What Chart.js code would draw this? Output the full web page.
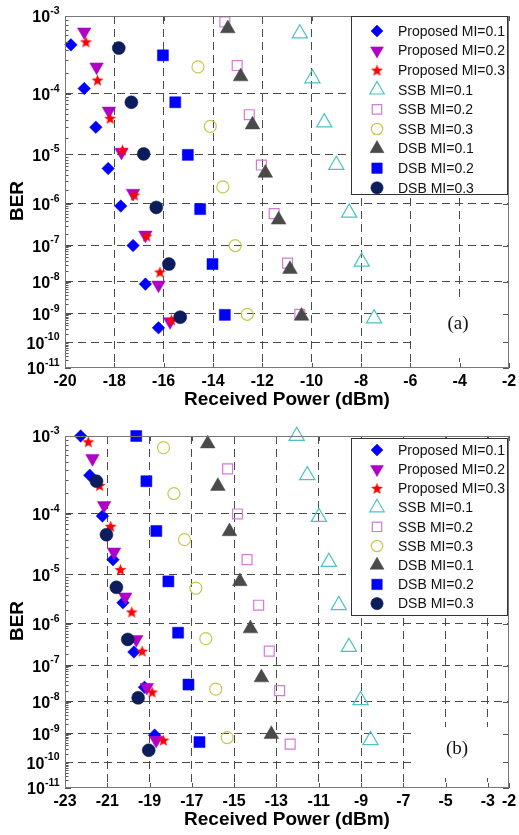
<!DOCTYPE html>
<html><head><meta charset="utf-8">
<script src="https://cdn.jsdelivr.net/npm/chart.js@4.4.0/dist/chart.umd.min.js"></script>
<style>
html,body{margin:0;padding:0;background:#fff;width:519px;height:835px;overflow:hidden;}
canvas{position:absolute;left:0;}
</style></head><body>
<canvas id="c1" width="519" height="418" style="top:0px"></canvas>
<canvas id="c2" width="519" height="417" style="top:418px"></canvas>
<script>
// ---------------- DATA ----------------
const seriesNames = ['Proposed MI=0.1','Proposed MI=0.2','Proposed MI=0.3','SSB MI=0.1','SSB MI=0.2','SSB MI=0.3','DSB MI=0.1','DSB MI=0.2','DSB MI=0.3'];
const yDecades = [3,4,5,6,7,8,9,10,11];           // BER = 10^-n tick labels
const xTicksA = [-20,-18,-16,-14,-12,-10,-8,-6,-4,-2];
const xTicksB = [-23,-21,-19,-17,-15,-13,-11,-9,-7,-5,-3,-2];

// Panel (a)
const propA1_P = [-19.76,-19.22,-18.75,-18.25,-17.74,-17.24,-16.74,-16.21];
const propA1_B = [4.6e-4,1.2e-4,3.0e-5,5.4e-6,8.9e-7,1.0e-7,8.5e-9,3.3e-10];
const propA2_P = [-19.22,-18.72,-18.22,-17.71,-17.24,-16.74,-16.21,-15.74];
const propA2_B = [6.6e-4,2.4e-4,5.5e-5,1.1e-5,1.7e-6,1.85e-7,8e-9,5.4e-10];
const propA3_P = [-19.15,-18.68,-18.17,-17.67,-17.19,-16.69,-16.15,-15.68];
const propA3_B = [5e-4,1.58e-4,4.2e-5,1.2e-5,1.55e-6,1.74e-7,1.9e-8,6.2e-10];
const ssbA1_P = [-10.48,-9.97,-9.49,-9.0,-8.48,-7.97,-7.47];
const ssbA1_B = [6.3e-4,1.67e-4,3.6e-5,6.3e-6,6.3e-7,3.7e-8,6.9e-10];
const ssbA2_P = [-13.52,-13.02,-12.53,-12.04,-11.52,-10.98,-10.48];
const ssbA2_B = [8.6e-4,2.5e-4,4.8e-5,6.3e-6,6e-7,3.4e-8,9.5e-10];
const ssbA3_P = [-14.61,-14.11,-13.60,-13.10,-12.61];
const ssbA3_B = [2.4e-4,3.1e-5,2.3e-6,1e-7,9.5e-10];
const dsbA1_P = [-13.40,-12.88,-12.40,-11.88,-11.34,-10.88,-10.41];
const dsbA1_B = [7.2e-4,1.77e-4,3.3e-5,4.4e-6,4.3e-7,2.3e-8,8.3e-10];
const dsbA2_P = [-16.03,-15.53,-15.02,-14.52,-14.02,-13.52];
const dsbA2_B = [3.4e-4,7.5e-5,9.8e-6,7.6e-7,3.2e-8,9.1e-10];
const dsbA3_P = [-17.82,-17.31,-16.81,-16.30,-15.79,-15.33];
const dsbA3_B = [4.2e-4,7.5e-5,1.02e-5,8.3e-7,3.2e-8,7.6e-10];

// Panel (b)
const propB1_P = [-22.26,-21.83,-21.23,-20.73,-20.26,-19.74,-19.24,-18.76];
const propB1_B = [1e-3,3.4e-4,9.3e-5,1.84e-5,2.8e-6,2.2e-7,2.6e-8,8.9e-10];
const propB2_P = [-21.70,-21.15,-20.68,-20.15,-19.63,-19.13,-18.69];
const propB2_B = [5.5e-4,1.33e-4,2.5e-5,3.7e-6,4.4e-7,2.6e-8,6e-10];
const propB3_P = [-21.90,-21.36,-20.84,-20.38,-19.84,-19.35,-18.88,-18.35];
const propB3_B = [8.6e-4,2.5e-4,6.5e-5,1.22e-5,1.8e-6,2.3e-7,1.9e-8,6e-10];
const ssbB1_P = [-12.04,-11.54,-10.99,-10.52,-10.05,-9.57,-9.02,-8.55];
const ssbB1_B = [1e-3,3.4e-4,9e-5,1.67e-5,2.5e-6,2.9e-7,1.1e-8,6e-10];
const ssbB2_P = [-15.31,-14.84,-14.39,-13.84,-13.34,-12.85,-12.35];
const ssbB2_B = [4.1e-4,1e-4,1.84e-5,2.5e-6,2.3e-7,2.1e-8,4.4e-10];
const ssbB3_P = [-18.34,-17.85,-17.35,-16.81,-16.34,-15.87,-15.33];
const ssbB3_B = [7.4e-4,1.95e-4,4e-5,5.5e-6,4.6e-7,2.3e-8,7.4e-10];
const dsbB1_P = [-16.25,-15.77,-15.22,-14.73,-14.23,-13.71,-13.24];
const dsbB1_B = [8.2e-4,2.45e-4,5.4e-5,7.4e-6,7.8e-7,4.8e-8,9.5e-10];
const dsbB2_P = [-19.63,-19.15,-18.68,-18.11,-17.65,-17.16,-16.64];
const dsbB2_B = [1e-3,2.85e-4,5.5e-5,7.4e-6,6.3e-7,3.1e-8,5.2e-10];
const dsbB3_P = [-21.51,-21.04,-20.57,-20.03,-19.54,-19.04];
const dsbB3_B = [2.85e-4,4.8e-5,5.7e-6,4.4e-7,1.3e-8,2.7e-10];

// ---------------- STYLE ----------------
function makeStar(R, color){
  const c = document.createElement('canvas');
  const s = Math.ceil(2*R+2); c.width = s; c.height = s;
  const g = c.getContext('2d'); const cx = s/2, cy = s/2 + 0.5; const r = R*0.42;
  g.beginPath();
  for (let i=0;i<10;i++){
    const a = -Math.PI/2 + i*Math.PI/5; const rr = (i%2===0)?R:r;
    const px = cx + rr*Math.cos(a), py = cy + rr*Math.sin(a);
    if(i===0) g.moveTo(px,py); else g.lineTo(px,py);
  }
  g.closePath(); g.fillStyle = color; g.fill();
  return c;
}
const starImg = makeStar(6.3, '#ff0000');
const NONE = 'rgba(0,0,0,0)';
const styles = [
  {ps:'rectRot', rot:0, r:6.3, fill:'#0000ff', stroke:'#0000ff', bw:0.5},
  {ps:'triangle', rot:180, r:7.8, fill:'#b000c8', stroke:'#b000c8', bw:0.5},
  {ps:starImg, rot:0, r:6.3, fill:'#ff0000', stroke:'#ff0000', bw:0},
  {ps:'triangle', rot:0, r:8.8, fill:NONE, stroke:'#4cc3c3', bw:1.2},
  {ps:'rect', rot:0, r:7.0, fill:NONE, stroke:'#d37ad6', bw:1.2},
  {ps:'circle', rot:0, r:6.0, fill:NONE, stroke:'#c8c84e', bw:1.2},
  {ps:'triangle', rot:0, r:8.5, fill:'#4a4a4a', stroke:'#4a4a4a', bw:0.5},
  {ps:'rect', rot:0, r:7.8, fill:'#0000ff', stroke:'#0000ff', bw:0.5},
  {ps:'circle', rot:0, r:6.5, fill:'#0c1c5c', stroke:'#0c1c5c', bw:0.5},
];

const LOG = Math.log10;
const tf = b => LOG(-LOG(b));   // BER axis transform

function buildDatasets(Ps, Bs){
  return Ps.map((P,i)=>({
    label: seriesNames[i],
    data: P.map((x,j)=>({x:x, y:tf(Bs[i][j])})),
    showLine:false,
    clip:false,
    order: -i,
    pointStyle: styles[i].ps,
    pointRotation: styles[i].rot,
    pointRadius: styles[i].r,
    pointBackgroundColor: styles[i].fill,
    pointBorderColor: styles[i].stroke,
    pointBorderWidth: styles[i].bw,
    pointHoverRadius: styles[i].r
  }));
}

const FONT = '"Liberation Sans", Arial, Helvetica, sans-serif';

function makePanel(id, H, top, bottom, xMin, xMax, xTicks, Ps, Bs, cfg){
  const gridColor = (ctx)=>{
    const n = ctx.scale.ticks.length;
    return (ctx.index===0 || ctx.index===n-1) ? NONE : '#4a4a4a';
  };
  const plugin = {
    id:'deco_'+id,
    beforeDatasetsDraw(chart){
      const c = chart.ctx; const b = cfg.labelBox;
      c.save(); c.fillStyle='#fff'; c.fillRect(b.x,b.y,b.w,b.h); c.restore();
    },
    afterDraw(chart){
      const c = chart.ctx; const a = chart.chartArea;
      const xs = chart.scales.x, ys = chart.scales.y;
      c.save();
      // ticks (inward)
      c.strokeStyle = '#555'; c.lineWidth = 1;
      c.beginPath();
      xTicks.forEach(t=>{
        const px = Math.round(xs.getPixelForValue(t))+0.5;
        c.moveTo(px, a.top); c.lineTo(px, a.top+5);
        c.moveTo(px, a.bottom); c.lineTo(px, a.bottom-5);
      });
      yDecades.forEach(n=>{
        const py = Math.round(ys.getPixelForValue(LOG(n)))+0.5;
        c.moveTo(a.left, py); c.lineTo(a.left+6, py);
        c.moveTo(a.right, py); c.lineTo(a.right-6, py);
      });
      for (let n=3;n<11;n++){
        for (let k=2;k<=9;k++){
          const py = Math.round(ys.getPixelForValue(LOG(n+1-LOG(k))))+0.5;
          c.moveTo(a.left, py); c.lineTo(a.left+3.5, py);
        }
      }
      c.stroke();
      // plot box
      c.strokeStyle = '#777';
      c.strokeRect(a.left+0.5, a.top+0.5, a.right-a.left-1, a.bottom-a.top-1);

      // legend
      const L = cfg.legend;
      c.fillStyle = '#fff'; c.fillRect(L.x, L.y, L.w, L.h);
      c.strokeStyle = '#333'; c.lineWidth = 1;
      c.strokeRect(L.x+0.5, L.y+0.5, L.w, L.h);
      c.font = '14px '+FONT; c.textAlign='left'; c.textBaseline='middle';
      seriesNames.forEach((name,i)=>{
        const yy = L.row0 + i*L.step; const st = styles[i];
        c.save();
        c.fillStyle = st.fill; c.strokeStyle = st.stroke; c.lineWidth = st.bw;
        Chart.helpers.drawPoint(c, {pointStyle: st.ps, rotation: st.rot, radius: st.r*0.95, borderWidth: st.bw}, L.mx, yy);
        c.restore();
        c.fillStyle = '#111';
        c.fillText(name, L.tx, yy+1);
      });

      // panel label
      c.fillStyle = '#111'; c.font = '19px "Liberation Serif", "Times New Roman", serif';
      c.textAlign='center'; c.textBaseline='middle';
      c.fillText(cfg.label, cfg.labelX, cfg.labelY);

      // x tick labels
      c.fillStyle = '#000'; c.font = 'bold 16px '+FONT;
      c.textAlign='center'; c.textBaseline='middle';
      xTicks.forEach(t=>{ c.fillText(String(t), xs.getPixelForValue(t), a.bottom+14); });
      // y tick labels 10^-n
      const baseFont = 'bold 16px '+FONT, supFont = 'bold 10.5px '+FONT;
      c.textAlign='left';
      yDecades.forEach(n=>{
        const py = ys.getPixelForValue(LOG(n));
        const sup = '-'+n;
        c.font = supFont; const wS = c.measureText(sup).width;
        c.font = baseFont; const wB = c.measureText('10').width;
        const xr = 59.5;
        c.fillText('10', xr - wS - wB, py + 2);
        c.font = supFont; c.fillText(sup, xr - wS, py - 5);
      });
      // axis titles
      c.font = 'bold 19px '+FONT; c.textAlign='center'; c.textBaseline='middle';
      c.fillText('Received Power (dBm)', (a.left+a.right)/2, a.bottom+32);
      c.save(); c.translate(18, a.top+185); c.rotate(-Math.PI/2);
      c.fillText('BER', 0, 0); c.restore();
      c.restore();
    }
  };
  return new Chart(document.getElementById(id), {
    type:'scatter',
    data:{ datasets: buildDatasets(Ps, Bs) },
    options:{
      responsive:false, animation:false, devicePixelRatio:1, events:[],
      layout:{ padding:{ top: top, right: 8, left: 0, bottom: 0 } },
      plugins:{ legend:{display:false}, tooltip:{enabled:false} },
      scales:{
        x:{ type:'linear', min:xMin, max:xMax,
            afterBuildTicks(s){ s.ticks = xTicks.map(v=>({value:v})); },
            afterFit(s){ s.height = H - bottom; },
            ticks:{ display:false },
            grid:{ color:gridColor, lineWidth:1, drawTicks:false },
            border:{ display:false, dash:[8,5] } },
        y:{ type:'linear', reverse:true, min:LOG(3), max:LOG(11),
            afterBuildTicks(s){ s.ticks = yDecades.map(n=>({value:LOG(n)})); },
            afterFit(s){ s.width = 65; },
            ticks:{ display:false },
            grid:{ color:gridColor, lineWidth:1, drawTicks:false },
            border:{ display:false, dash:[8,5] } }
      }
    },
    plugins:[plugin]
  });
}

makePanel('c1', 418, 16, 368, -20, -2, xTicksA,
  [propA1_P,propA2_P,propA3_P,ssbA1_P,ssbA2_P,ssbA3_P,dsbA1_P,dsbA2_P,dsbA3_P],
  [propA1_B,propA2_B,propA3_B,ssbA1_B,ssbA2_B,ssbA3_B,dsbA1_B,dsbA2_B,dsbA3_B],
  { label:'(a)', labelX:458, labelY:324,
    labelBox:{x:416,y:302,w:93,h:56},
    legend:{x:351,y:16,w:156,h:178,row0:31,step:19.6,mx:377,tx:398} });

makePanel('c2', 417, 18, 370, -23, -2, xTicksB,
  [propB1_P,propB2_P,propB3_P,ssbB1_P,ssbB2_P,ssbB3_P,dsbB1_P,dsbB2_P,dsbB3_P],
  [propB1_B,propB2_B,propB3_B,ssbB1_B,ssbB2_B,ssbB3_B,dsbB1_B,dsbB2_B,dsbB3_B],
  { label:'(b)', labelX:457, labelY:331,
    labelBox:{x:413,y:309,w:96,h:51},
    legend:{x:351,y:20,w:156,h:177,row0:32,step:19.2,mx:377,tx:398} });
</script>
</body></html>
